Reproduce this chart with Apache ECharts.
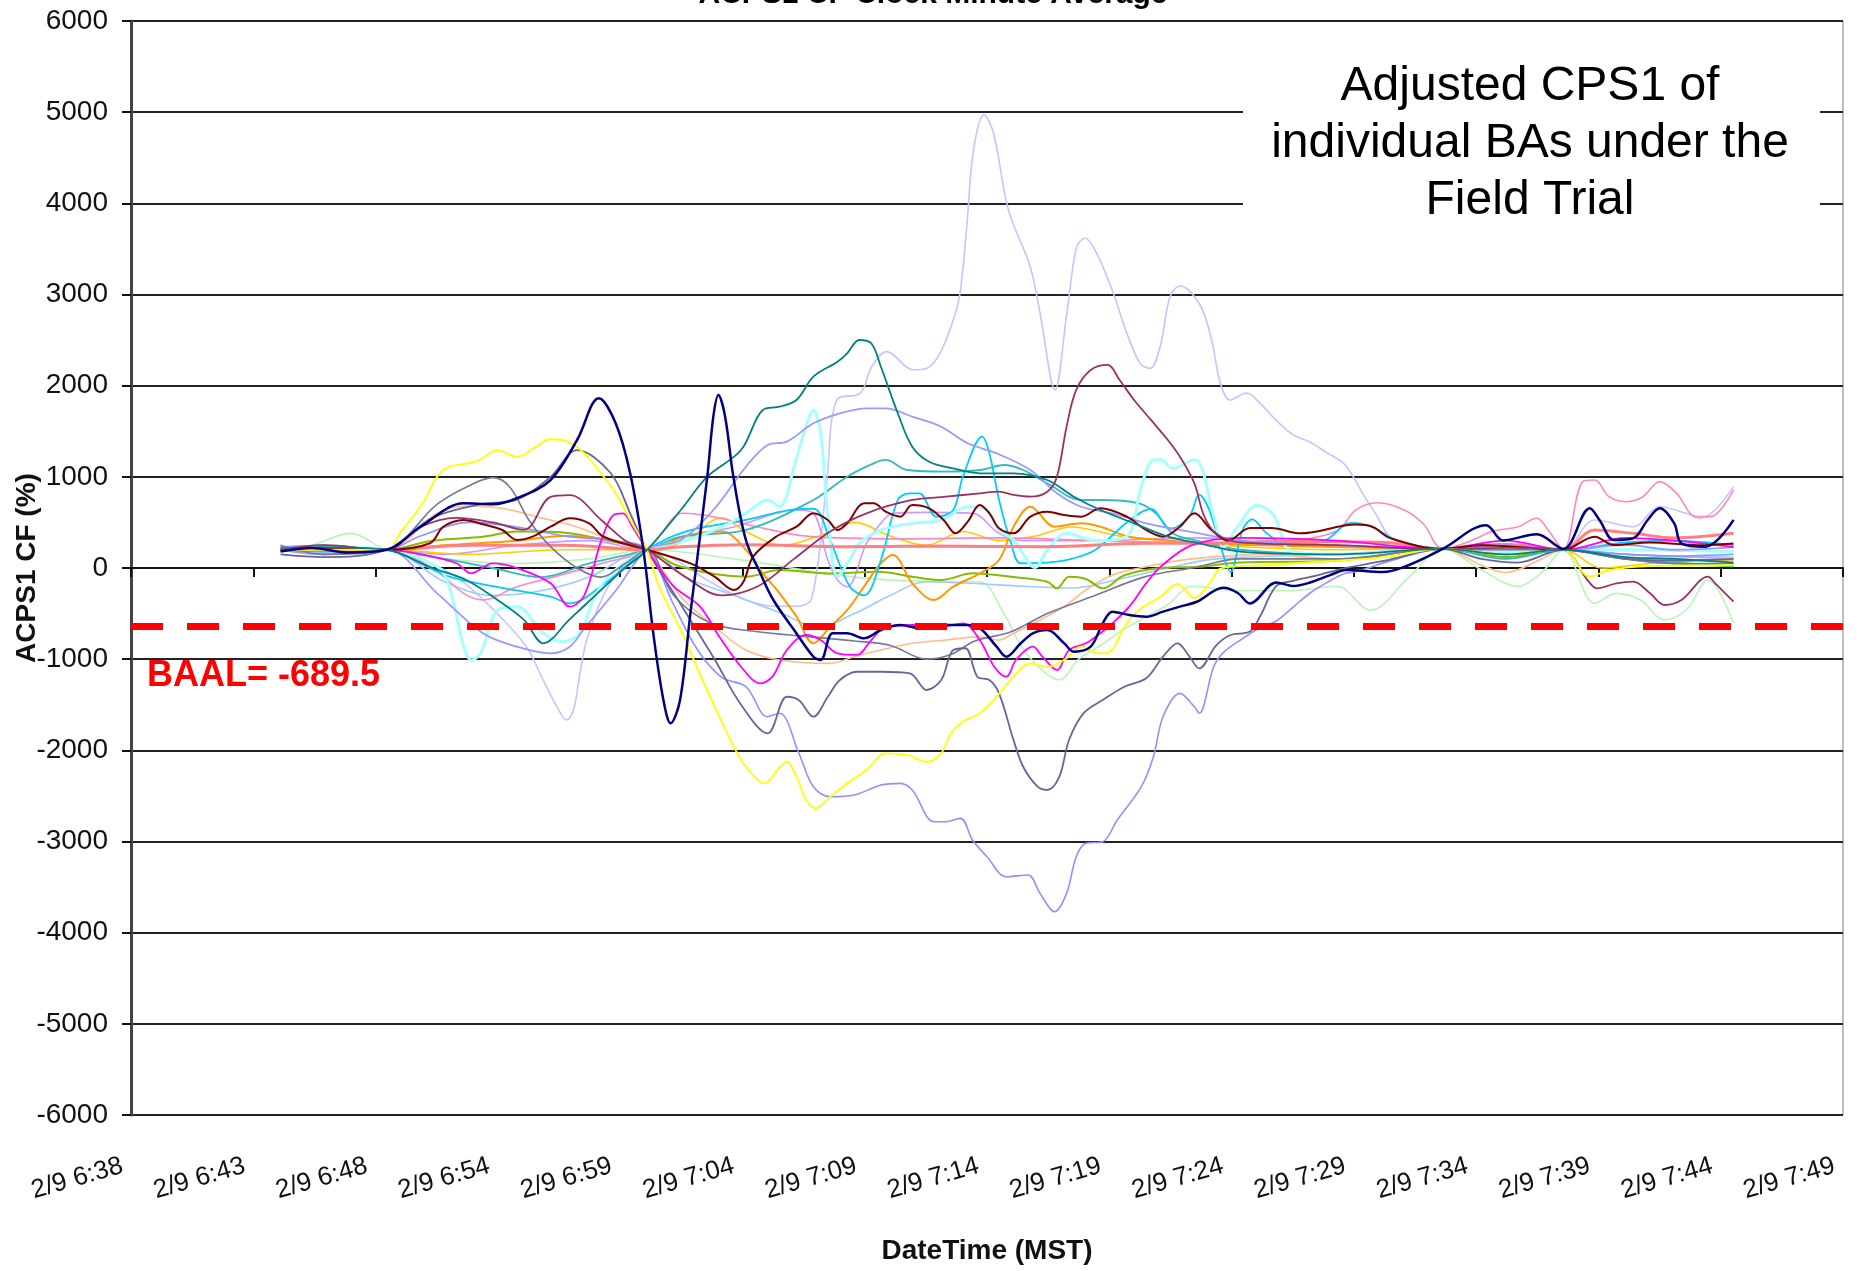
<!DOCTYPE html>
<html><head><meta charset="utf-8">
<script src="https://cdn.jsdelivr.net/npm/echarts@6/dist/echarts.min.js"></script>
<style>html,body{margin:0;padding:0;background:#fff}#c{width:1860px;height:1271px}</style>
</head><body><div id="c"></div>
<script>
// x values: minutes after 2/9 6:38 (axis runs 6:38 .. 7:49)
const tickLabels = ['2/9 6:38','2/9 6:43','2/9 6:48','2/9 6:54','2/9 6:59','2/9 7:04','2/9 7:09','2/9 7:14','2/9 7:19','2/9 7:24','2/9 7:29','2/9 7:34','2/9 7:39','2/9 7:44','2/9 7:49'];
const axisEndMinute = 71;
const yMin = -6000, yMax = 6000, yStep = 1000;
const baalLineValue = -643;
const baalText = 'BAAL= -689.5';
const titleText = 'ACPS1 CF Clock Minute Average';
const noteText = 'Adjusted CPS1 of\nindividual BAs under the\nField Trial';

const navy = [[6.2,180],[7.5,220],[9,170],[10.6,200],[12,450],[13.8,710],[15,700],[16,765],[17.4,965],[18.5,1404],[19.4,1862],[20.1,1587],[20.7,1039],[21.25,197],[21.66,-716],[22.08,-1448],[22.38,-1704],[22.77,-1448],[23.2,-494],[23.9,1002],[24.15,1660],[24.36,1898],[24.64,1660],[24.98,1002],[25.5,307],[26.1,-58],[26.64,-351],[27.5,-680],[28.3,-973],[28.6,-1009],[29.1,-716],[29.7,-716],[30.4,-771],[31.1,-680],[31.9,-625],[32.7,-658],[33.8,-625],[34.7,-625],[35.2,-658],[35.9,-863],[36.3,-973],[36.9,-826],[37.4,-716],[38,-680],[38.7,-826],[39.1,-918],[39.8,-863],[40.3,-607],[40.7,-479],[41.4,-516],[42.1,-534],[42.8,-479],[43.5,-424],[44.2,-370],[45.3,-216],[45.9,-274],[46.4,-389],[47.5,-159],[48.2,-197],[48.9,-159],[49.7,-81],[50.4,-22],[51.9,-44],[53,33],[54.4,210],[56.2,470],[56.9,303],[58.3,370],[59.4,210],[60.5,655],[60.9,527],[61.5,307],[62.3,326],[62.9,527],[63.4,655],[64,490],[64.3,271],[65.3,234],[66.46,527]];
const lavender = [[6.2,220],[8,180],[10.6,200],[12,100],[13.5,-100],[15,-450],[16.4,-863],[16.96,-1155],[17.66,-1521],[18.07,-1667],[18.35,-1558],[18.62,-1155],[18.9,-790],[19.6,-300],[20.5,50],[21.4,200],[22.5,100],[24,-150],[25.5,-350],[26.8,-420],[27.6,-420],[28.23,-333],[28.85,929],[29.27,1843],[30.24,1916],[30.72,2208],[31.34,2373],[32.45,2172],[33.0,2190],[33.55,2355],[34.1,2720],[34.38,3013],[34.66,3744],[34.94,4585],[35.38,4970],[35.77,4769],[36.39,3927],[37.29,3305],[37.7,2794],[38.32,1953],[38.81,2794],[39.22,3525],[39.57,3617],[40.05,3452],[40.74,3013],[41.3,2575],[41.85,2245],[42.26,2190],[42.68,2428],[43.09,2976],[43.51,3094],[44.34,2882],[44.82,2497],[45.17,2035],[45.58,1843],[46.27,1920],[46.83,1805],[47.52,1613],[48.21,1458],[48.9,1381],[49.59,1266],[50.28,1150],[50.7,996],[51.11,804],[51.67,573],[52.22,342],[53.3,250],[54.4,210],[56,260],[57.5,230],[59.4,200],[60.7,527],[62.3,453],[63.4,672],[64.5,600],[65.1,545],[66.46,892]];
const teal = [[6.2,200],[8,230],[10.6,200],[12.5,0],[13.9,-132],[15.2,-351],[16.3,-570],[17.1,-826],[18.2,-560],[19.3,-290],[20.4,-20],[21.4,200],[22.8,636],[23.9,1002],[25.3,1294],[26.2,1733],[26.9,1770],[27.6,1843],[28.3,2099],[29.3,2263],[29.7,2355],[30.2,2501],[30.7,2465],[31.1,2208],[31.8,1697],[32.4,1331],[33.1,1166],[34.1,1093],[35.2,1039],[36.6,1039],[38.0,965],[39.1,782],[40.2,636],[41.6,490],[43,343],[44.3,271],[46,180],[50,150],[54.4,210],[57,150],[59.4,200],[62,120],[64,100],[66.46,60]];
const periwinkleArc = [[6.2,200],[8,150],[10.6,200],[12.7,-278],[14.6,-716],[16,-863],[17.4,-936],[18.2,-863],[18.75,-680],[20.1,-250],[21.4,200],[22.8,307],[24.15,636],[25.5,1111],[26.4,1349],[27.2,1386],[28.3,1587],[29.4,1697],[30.5,1752],[31.3,1752],[32.4,1660],[33.6,1550],[34.7,1368],[35.9,1258],[37.3,1075],[38.4,819],[39.4,672],[40.7,600],[42.1,490],[43.5,417],[44.3,380],[46,300],[50,250],[54.4,210],[57,250],[59.4,200],[62,250],[64,200],[66.46,230]];
const periwinkleDeep = [[6.2,230],[8,250],[10.6,200],[12,350],[14,500],[16,450],[18,350],[20,300],[21.4,200],[22.5,-400],[23.5,-900],[24.5,-1200],[25.5,-1302],[26.4,-1631],[26.9,-1594],[27.7,-2033],[28.3,-2399],[29.0,-2509],[30.0,-2490],[31.1,-2380],[31.9,-2362],[32.4,-2435],[33.3,-2783],[33.8,-2783],[34.4,-2746],[34.9,-2984],[35.5,-3167],[36.3,-3386],[37.2,-3368],[37.7,-3569],[38.3,-3770],[38.8,-3569],[39.2,-3167],[39.6,-3020],[40.3,-3002],[40.9,-2764],[41.9,-2399],[42.4,-2070],[42.8,-1631],[43.5,-1375],[44.1,-1522],[44.3,-1594],[44.9,-1083],[45.3,-928],[46.1,-774],[46.8,-658],[47.5,-581],[48.2,-428],[48.9,-274],[49.6,-159],[50.3,-63],[50.8,-40],[52.5,100],[54.4,210],[57,150],[59.4,200],[62,150],[64,130],[66.46,150]];
const yellow = [[6.2,200],[8,200],[10.6,200],[11.2,400],[12.1,710],[12.7,1002],[13.2,1111],[14.3,1166],[15.2,1294],[16,1221],[16.8,1331],[17.4,1412],[18.1,1386],[18.8,1258],[19.6,1002],[20.1,819],[20.7,527],[21.4,200],[21.9,-205],[22.8,-680],[23.6,-1170],[24.4,-1631],[25.0,-1960],[25.5,-2180],[26.3,-2362],[26.8,-2216],[27.2,-2125],[27.6,-2289],[28.0,-2545],[28.4,-2636],[29.0,-2509],[29.7,-2362],[30.5,-2216],[31.3,-2033],[32.2,-2051],[33.0,-2125],[33.6,-2033],[34.0,-1813],[34.5,-1686],[35.2,-1594],[35.9,-1412],[36.6,-1192],[37.3,-1046],[38.0,-1083],[38.7,-1009],[39.4,-863],[40.1,-936],[40.6,-918],[41.2,-644],[41.8,-461],[42.7,-315],[43.4,-175],[44.1,-329],[44.75,-159],[45.2,-4],[47,30],[50,80],[52,120],[54.4,210],[57,150],[59.4,200],[60.5,-95],[61.3,-22],[63,20],[66.46,30]];
const slateA = [[6.2,250],[8,150],[10.6,200],[12.7,700],[14.0,900],[15.0,991],[15.7,892],[16.5,527],[17.4,234],[18.5,0],[19.5,-100],[20.5,50],[21.4,200],[22.5,-300],[24,-600],[26,-700],[28,-750],[30,-800],[31.5,-850],[33,-1000],[34,-950],[35,-800],[36.5,-700],[38,-500],[40,-300],[42,-100],[44,0],[46,100],[50,100],[54.4,210],[56,200],[59.4,200],[62,100],[64,50],[66.46,50]];
const slateB = [[6.2,150],[8,120],[10.6,200],[12.5,550],[14.5,700],[16,750],[17.4,1000],[18.5,1294],[19.9,1039],[20.7,600],[21.4,200],[22.8,-400],[24.2,-1000],[25.3,-1500],[26.4,-1814],[27.2,-1412],[27.7,-1450],[28.3,-1631],[28.9,-1412],[29.4,-1229],[30.1,-1138],[31.1,-1138],[32.3,-1155],[33.0,-1338],[33.6,-1229],[34.1,-900],[34.6,-880],[35.1,-1192],[35.6,-1229],[36.0,-1375],[36.6,-1887],[37.0,-2180],[37.6,-2399],[38.0,-2435],[38.5,-2289],[38.9,-1887],[39.5,-1594],[40.3,-1448],[41.2,-1302],[42.1,-1210],[42.8,-973],[43.4,-826],[43.9,-973],[44.3,-1101],[45.0,-851],[45.6,-735],[46.4,-697],[46.8,-543],[47.5,-197],[48.2,-140],[49.2,-81],[50,-22],[52,80],[54.4,210],[56,100],[57.5,60],[59.4,200],[62,100],[64,80],[66.46,100]];
const plum = [[6.2,200],[8,250],[10.6,200],[12,450],[13.5,550],[15,500],[16.3,420],[17.4,780],[18.2,800],[19.5,527],[20.5,300],[21.4,200],[23,-100],[24.5,-300],[26,-200],[27.5,100],[29,400],[30.5,600],[32.4,746],[33.8,782],[35.2,819],[36,837],[36.6,801],[37.3,782],[38.0,837],[38.4,1002],[38.8,1550],[39.2,1953],[39.8,2172],[40.5,2227],[41.0,2062],[41.6,1843],[42.3,1624],[43.0,1404],[43.5,1221],[44.1,929],[44.5,573],[45.0,380],[46,280],[50,250],[54.4,210],[57,220],[59.4,200],[60.4,-132],[60.8,-223],[61.6,-168],[62.3,-150],[63.0,-278],[63.6,-406],[64.3,-351],[65.4,-95],[65.7,-168],[66.46,-370]];
const maroon = [[6.2,200],[8,220],[10.6,200],[12.4,271],[12.95,453],[13.8,527],[14.6,480],[15.4,417],[16.0,307],[16.7,350],[17.4,453],[18.2,545],[19.0,490],[19.6,343],[21.4,200],[23.2,50],[24.2,-95],[25.0,-240],[25.4,-150],[25.8,124],[26.75,343],[27.6,453],[28.3,600],[28.9,527],[29.3,417],[29.7,490],[30.4,710],[30.8,710],[31.3,618],[31.9,563],[32.4,691],[33.1,655],[33.7,527],[34.2,380],[34.7,508],[35.2,691],[35.6,600],[36.0,435],[36.6,380],[37.3,563],[38.0,618],[38.7,581],[39.4,563],[40.2,655],[41.3,563],[42.1,417],[42.8,343],[43.5,453],[44.1,600],[44.8,420],[45.5,300],[46.4,439],[47.3,439],[48.5,380],[50.8,476],[51.5,450],[52.2,330],[54.4,210],[56,250],[57.5,230],[59.4,200],[60.7,343],[61.5,252],[63,280],[65,250],[66.46,270]];
const lightCyan = [[6.2,200],[8,230],[10.6,200],[12.7,14],[13.2,-205],[13.8,-863],[14.1,-1009],[14.5,-936],[15.2,-461],[16.0,-424],[17.1,-716],[17.9,-808],[18.6,-716],[19.3,-278],[20.1,-15],[21.4,200],[23,300],[24.5,450],[25.5,600],[26.4,746],[26.9,672],[27.5,1111],[27.9,1478],[28.3,1733],[28.6,1478],[28.9,563],[29.3,-95],[29.8,88],[30.2,271],[31.1,417],[32.4,490],[33.6,527],[34.7,672],[35.5,636],[36.0,417],[36.6,307],[37.5,5],[38.0,197],[38.8,380],[40,300],[41.3,350],[41.9,900],[42.4,1185],[42.7,1189],[43.2,1093],[44.1,1189],[44.9,573],[45.3,226],[45.9,457],[46.7,688],[47.4,573],[48.1,188],[50,150],[54.4,210],[57,180],[59.4,200],[62,200],[66.46,180]];
const skyBlue = [[6.2,200],[8,180],[10.6,200],[12,50],[13.2,-95],[15,-200],[17.4,-315],[18.2,-387],[19.5,-200],[21.4,200],[23,400],[25.5,527],[27.3,636],[28.3,650],[29,300],[29.8,-200],[30.4,-300],[31.1,88],[31.8,746],[32.3,819],[32.7,819],[33.4,563],[34.1,636],[34.5,1002],[35.3,1441],[35.6,1258],[36.0,746],[36.5,271],[36.9,52],[38,60],[39,100],[40,200],[41.3,500],[42.3,649],[43.1,430],[43.9,573],[44.3,804],[44.7,649],[45.2,226],[45.6,-44],[46.1,419],[46.5,534],[47.1,380],[48,250],[49.5,300],[50.6,496],[51.5,450],[52.5,300],[54.4,210],[57,250],[59.4,200],[62,280],[64,300],[66.46,250]];
const tealLight = [[6.2,200],[8,200],[10.6,200],[13,100],[15,0],[17,-100],[19,50],[21.4,200],[22.8,343],[25.5,417],[28.3,746],[29.7,1002],[30.8,1148],[31.3,1185],[32.2,1075],[33.8,1057],[35.2,1075],[36.2,1130],[37.0,1075],[38.0,929],[39.4,746],[40.2,746],[41.8,710],[42.5,600],[43.2,380],[44.1,307],[46,200],[50,150],[54.4,210],[57,100],[59.4,200],[62,100],[66.46,20]];
const magenta = [[6.2,220],[8,200],[10.6,200],[12,150],[13.5,52],[14.1,-58],[15,50],[16,0],[17.4,-168],[18.2,-424],[18.8,-300],[19.5,300],[20.0,580],[20.4,600],[20.8,450],[21.4,200],[22.5,-200],[23.6,-424],[24.4,-754],[25.3,-1083],[26.1,-1265],[26.6,-1192],[27.2,-900],[28.0,-735],[28.6,-790],[29.3,-936],[30.1,-954],[30.7,-790],[31.3,-644],[32.4,-625],[33.6,-644],[34.5,-607],[35.2,-790],[35.8,-1083],[36.3,-1192],[36.7,-1009],[37.4,-863],[37.8,-973],[38.4,-1119],[38.9,-900],[39.6,-826],[40.2,-716],[40.7,-607],[41.4,-424],[42.1,-168],[42.7,14],[44,250],[46,330],[50,300],[54.4,210],[57,300],[59.4,200],[62,330],[64,300],[66.46,230]];
const orange = [[6.2,200],[8,200],[10.6,200],[13,250],[16,300],[18,350],[20,300],[21.4,200],[23,350],[24.5,400],[25.5,200],[26.2,-58],[26.9,-278],[27.6,-534],[28.3,-826],[29.0,-644],[29.7,-461],[30.4,-205],[31.1,52],[31.6,143],[32.4,-168],[33.3,-351],[34.1,-205],[35.2,-58],[36.0,88],[36.6,453],[37.3,672],[38.3,453],[39.4,490],[40.2,453],[41.4,343],[42.8,307],[44.2,271],[47,250],[50,230],[54.4,210],[57,200],[59.4,200],[62,200],[66.46,180]];
const peach = [[6.2,200],[8,250],[10.6,200],[12.7,600],[14,680],[15.5,650],[17,550],[18.5,450],[20,300],[21.4,200],[22.8,-315],[24.2,-644],[25.5,-900],[26.9,-1009],[29.0,-1046],[30.0,-973],[31.1,-900],[32.4,-826],[33.8,-790],[35.2,-754],[36.0,-790],[36.6,-716],[37.7,-570],[38.7,-424],[39.6,-241],[40.7,-77],[42.1,14],[44,100],[47,150],[50,100],[54.4,210],[56,30],[57,-50],[58.5,100],[59.4,200],[62,100],[66.46,80]];
const pink = [[6.2,200],[8,180],[10.6,200],[12.5,0],[13.8,-278],[14.6,-351],[16,-205],[17.5,-100],[19.5,50],[21.4,200],[22.9,600],[24.2,560],[26,450],[28,350],[32,320],[36,330],[40,300],[44,280],[48,300],[50.0,405],[50.8,637],[51.7,715],[52.8,637],[53.6,483],[54.4,210],[55.5,291],[56.5,405],[57.5,450],[58.3,545],[58.8,405],[59.4,200],[60.2,947],[60.7,965],[61.3,782],[62.0,727],[62.7,782],[63.4,947],[64.1,819],[64.9,563],[65.5,563],[66.46,856]];
const coral = [[6.2,200],[8,200],[10.6,200],[14,250],[18,250],[21.4,200],[22.8,234],[25.5,256],[29.7,234],[33,240],[38,234],[42.1,271],[44.3,271],[48,290],[52,280],[54.4,210],[57,260],[59.4,200],[60.7,417],[62.3,380],[64,330],[66.46,380]];
const green = [[6.2,200],[8,220],[10.6,200],[12.5,300],[14.6,343],[16,400],[17.4,398],[18.2,380],[19.8,300],[21.4,200],[22.8,14],[25.5,-95],[26.9,-22],[29,-60],[31,-40],[32.4,-95],[33.6,-132],[34.9,-58],[36.6,-100],[38.0,-150],[38.4,-223],[38.9,-95],[39.6,-120],[40.3,-223],[41.2,-80],[42.7,0],[44.3,14],[46,60],[50,80],[54.4,210],[57,120],[59.4,200],[62,100],[64,50],[66.46,20]];
const lightGreen = [[6.2,200],[7.5,250],[9.1,380],[10.6,200],[13,100],[16,50],[19,100],[21.4,200],[25,100],[30,-100],[34,-150],[35.2,-150],[36.2,-500],[36.9,-850],[37.7,-1100],[38.5,-1229],[39.3,-1000],[40.2,-850],[41,-700],[42,-550],[43,-400],[44,-200],[46,-250],[48,-250],[50,-200],[51.4,-463],[53,-100],[54.4,210],[56,-20],[57.5,-200],[58.5,-50],[59.4,200],[60.7,-387],[61.6,-278],[62.6,-351],[63.6,-570],[64.5,-461],[65.4,-132],[66.46,-607]];
const lightBlue = [[6.2,200],[8,150],[10.6,200],[13,-150],[15,-300],[17,-250],[19,-100],[21.4,200],[23,-100],[25,-300],[27,-500],[28.5,-650],[30,-500],[31.5,-300],[33,-150],[35,-170],[37,-200],[39,-220],[41,-120],[43,0],[45,100],[50,150],[54.4,210],[57,150],[59.4,200],[62,150],[66.46,120]];
const purple = [[6.2,200],[8,200],[10.6,200],[13,150],[16,250],[19,300],[21.4,200],[23,350],[25,450],[27.6,636],[28.3,600],[28.9,88],[29.3,-132],[29.7,-205],[30.5,271],[31.1,490],[31.6,600],[33,610],[34.9,600],[36.0,380],[37,300],[40,300],[44.3,330],[48,250],[54.4,210],[57,200],[59.4,200],[62,150],[66.46,100]];
const gold = [[6.2,200],[8,200],[10.6,200],[14,150],[18,200],[21.4,200],[23,300],[24.5,550],[25.5,400],[27,250],[28.5,350],[30,500],[31.5,350],[33,250],[34.5,400],[36,300],[37.5,350],[39,450],[41,350],[43,300],[45,250],[50,200],[54.4,210],[57,150],[59.4,200],[61,0],[63,50],[66.46,100]];

const seriesDefs = [
  {name:'BA 01', data: lavender,       color:'#c4c4ff', width:1.6},
  {name:'BA 02', data: lightGreen,     color:'#b8f5b8', width:1.6},
  {name:'BA 03', data: lightBlue,      color:'#99ccff', width:1.6},
  {name:'BA 04', data: purple,         color:'#cc99ff', width:1.6},
  {name:'BA 05', data: peach,          color:'#ffbb88', width:1.6},
  {name:'BA 06', data: gold,           color:'#ffcc00', width:1.6},
  {name:'BA 07', data: pink,           color:'#ff88bb', width:1.6},
  {name:'BA 08', data: green,          color:'#88bb00', width:2},
  {name:'BA 09', data: orange,         color:'#ff9900', width:2},
  {name:'BA 10', data: tealLight,      color:'#33bbbb', width:1.8},
  {name:'BA 11', data: skyBlue,        color:'#00ccff', width:1.8},
  {name:'BA 12', data: lightCyan,      color:'#a6ffff', width:3},
  {name:'BA 13', data: coral,          color:'#ff8080', width:3},
  {name:'BA 14', data: periwinkleArc,  color:'#9999ff', width:1.8},
  {name:'BA 15', data: periwinkleDeep, color:'#9090ff', width:1.6},
  {name:'BA 16', data: slateA,         color:'#777799', width:1.6},
  {name:'BA 17', data: slateB,         color:'#666699', width:1.8},
  {name:'BA 18', data: magenta,        color:'#ff00ff', width:1.8},
  {name:'BA 19', data: maroon,         color:'#800000', width:2},
  {name:'BA 20', data: plum,           color:'#993366', width:1.8},
  {name:'BA 21', data: yellow,         color:'#ffff00', width:1.8},
  {name:'BA 22', data: teal,           color:'#008080', width:1.8},
  {name:'BA 23', data: navy,           color:'#000080', width:2.5}
];

const step = axisEndMinute / (tickLabels.length - 1);
const tickValues = tickLabels.map((_, i) => i * step);
const font = 'Liberation Sans, Arial, sans-serif';

const series = seriesDefs.map(d => ({
  name: d.name, type: 'line', data: d.data, xAxisIndex: 0, yAxisIndex: 0,
  smooth: 0.35, showSymbol: false, symbol: 'none',
  lineStyle: {color: d.color, width: d.width}, itemStyle: {color: d.color},
  emphasis: {disabled: true}, z: 3
}));
series.push({
  name: 'BAAL', type: 'line', data: [], xAxisIndex: 0, yAxisIndex: 0,
  markLine: {silent: true, symbol: 'none', label: {show: false},
    lineStyle: {color: '#ff0000', width: 7, type: [32, 24]},
    data: [{yAxis: baalLineValue}]},
  z: 5
});

const chart = echarts.init(document.getElementById('c'), null, {renderer: 'canvas'});
chart.setOption({
  animation: false,
  backgroundColor: '#ffffff',
  grid: {left: 131, right: 17, top: 21, bottom: 156, containLabel: false, outerBoundsMode: 'none',
    show: true, borderColor: '#808080', borderWidth: 1, backgroundColor: 'transparent'},
  xAxis: [
    {type: 'value', min: 0, max: axisEndMinute, position: 'bottom',
      axisLine: {show: false, onZero: false}, axisTick: {show: false}, splitLine: {show: false},
      axisLabel: {customValues: tickValues, formatter: v => tickLabels[Math.round(v / step)] || '',
        rotate: 16, margin: 48, fontSize: 26, fontFamily: font, color: '#111', padding: [0, 9, 0, 0]},
      name: 'DateTime (MST)', nameLocation: 'middle', nameGap: 122, nameMoveOverlap: false,
      nameTextStyle: {fontSize: 28, fontWeight: 'bold', fontFamily: font, color: '#111'}},
    {type: 'value', min: 0, max: axisEndMinute, position: 'bottom',
      axisLine: {show: true, onZero: true, lineStyle: {color: '#111', width: 2}},
      axisTick: {show: true, customValues: tickValues, length: 9, inside: false, lineStyle: {color: '#111', width: 2}},
      axisLabel: {show: false}, splitLine: {show: false}}
  ],
  yAxis: {type: 'value', min: yMin, max: yMax, interval: yStep,
    axisLine: {show: true, onZero: false, lineStyle: {color: '#444', width: 3}},
    axisTick: {show: true, length: 9, lineStyle: {color: '#111', width: 2}},
    axisLabel: {margin: 23, fontSize: 28, fontFamily: font, color: '#111', formatter: v => String(v)},
    splitLine: {show: true, lineStyle: {color: '#222', width: 2}},
    name: 'ACPS1 CF (%)', nameLocation: 'middle', nameGap: 90, nameMoveOverlap: false,
    nameTextStyle: {fontSize: 28, fontWeight: 'bold', fontFamily: font, color: '#111'}},
  graphic: [
    {type: 'rect', z: 10, shape: {x: 1243, y: 40, width: 577, height: 210}, style: {fill: '#ffffff'}},
    {type: 'text', z: 11, x: 1530, y: 144, style: {text: noteText, fill: '#000', font: '48px ' + font,
      textAlign: 'center', textVerticalAlign: 'middle', lineHeight: 57}},
    {type: 'text', z: 11, x: 147, y: 676, style: {text: baalText, fill: '#ff0000', font: 'bold 36px ' + font,
      textAlign: 'left', textVerticalAlign: 'middle'}},
    {type: 'text', z: 11, x: 933, y: -5, style: {text: titleText, fill: '#000', font: 'bold 30px ' + font,
      textAlign: 'center', textVerticalAlign: 'middle'}}
  ],
  series: series
});
</script></body></html>
